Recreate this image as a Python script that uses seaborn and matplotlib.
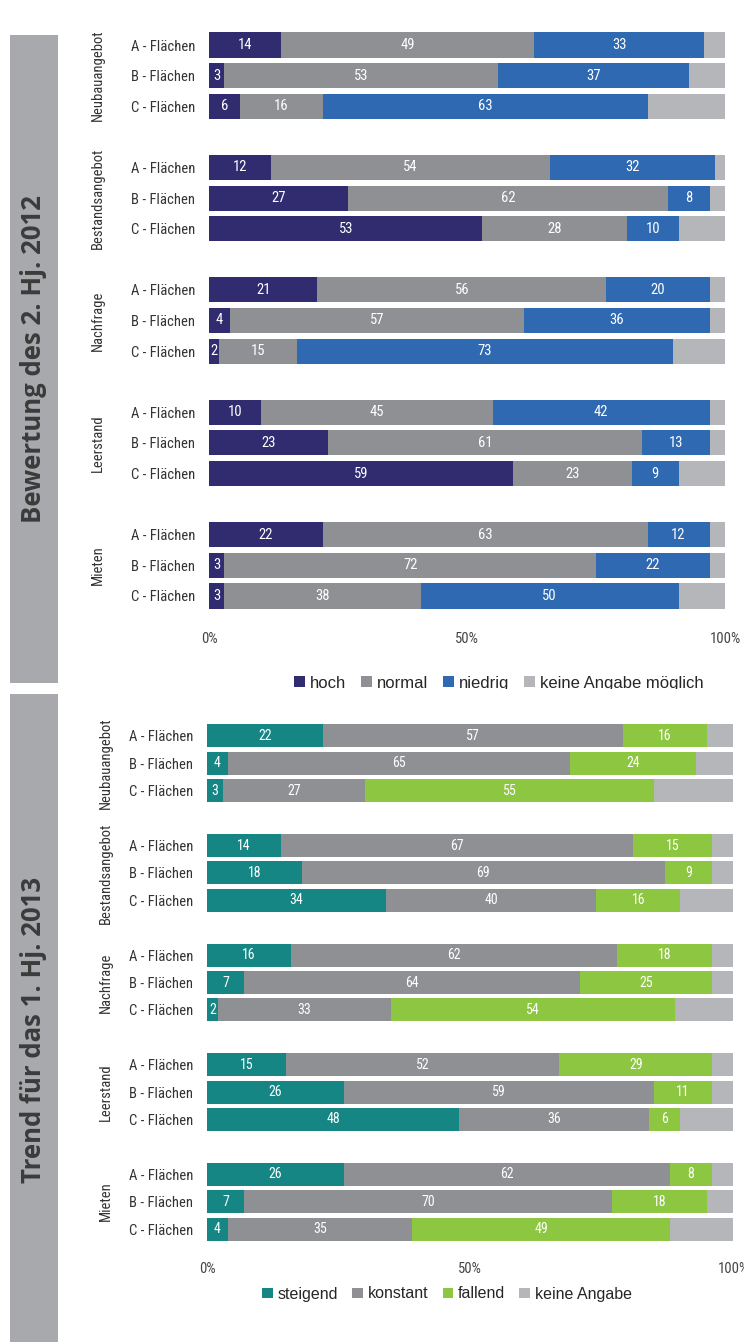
import numpy as np
import pandas as pd
import seaborn as sns
import matplotlib.pyplot as plt
from matplotlib import font_manager as fm
from matplotlib.patches import Rectangle
from matplotlib.transforms import blended_transform_factory

sns.set_theme(style="white")

# prefer a narrow sans for labels, fall back to a regular one
_names = {f.name for f in fm.fontManager.ttflist}
_cond = {f.name for f in fm.fontManager.ttflist if "condensed" in str(f.stretch) or "narrow" in f.name.lower() or "condensed" in f.name.lower()}
NARROW = None
for cand in ["Liberation Sans Narrow", "Roboto Condensed", "Open Sans Condensed",
             "Noto Sans Condensed", "DejaVu Sans Condensed"]:
    if cand in _names:
        NARROW = {"family": [cand, "DejaVu Sans"], "stretch": "normal"}
        break
if NARROW is None and _cond:
    NARROW = {"family": [sorted(_cond)[0], "DejaVu Sans"], "stretch": "condensed"}
if NARROW is None:
    NARROW = {"family": ["Roboto", "DejaVu Sans"], "stretch": "normal"}

plt.rcParams['font.family'] = NARROW["family"]
plt.rcParams['font.stretch'] = NARROW["stretch"]

# ---------------- data ----------------
groups = ["Neubauangebot", "Bestandsangebot", "Nachfrage", "Leerstand", "Mieten"]
rows = ["A - Flächen", "B - Flächen", "C - Flächen"]

# Bewertung des 2. Hj. 2012
eval_series = ["hoch", "normal", "niedrig", "keine Angabe möglich"]
eval_hoch = [14, 3, 6, 12, 27, 53, 21, 4, 2, 10, 23, 59, 22, 3, 3]
eval_normal = [49, 53, 16, 54, 62, 28, 56, 57, 15, 45, 61, 23, 63, 72, 38]
eval_niedrig = [33, 37, 63, 32, 8, 10, 20, 36, 73, 42, 13, 9, 12, 22, 50]
eval_keine = [4, 7, 15, 2, 3, 9, 3, 3, 10, 3, 3, 9, 3, 3, 9]

# Trend für das 1. Hj. 2013
trend_series = ["steigend", "konstant", "fallend", "keine Angabe"]
trend_steigend = [22, 4, 3, 14, 18, 34, 16, 7, 2, 15, 26, 48, 26, 7, 4]
trend_konstant = [57, 65, 27, 67, 69, 40, 62, 64, 33, 52, 59, 36, 62, 70, 35]
trend_fallend = [16, 24, 55, 15, 9, 16, 18, 25, 54, 29, 11, 6, 8, 18, 49]
trend_keine = [5, 7, 15, 4, 4, 10, 4, 4, 11, 4, 4, 10, 4, 5, 12]

x_ticks = [0, 50, 100]
x_ticklabels = ["0%", "50%", "100%"]

eval_colors = ["#312b6f", "#8f9094", "#2e69b2", "#b5b6b9"]
trend_colors = ["#168685", "#8f9094", "#8dc641", "#b5b6b9"]

W, H = 744, 1342
fig = plt.figure(figsize=(W / 100, H / 100), dpi=100)

# slot layout: three bars per group and one empty slot between groups
order = []
tick_pos, tick_lab, group_mid = [], [], []
for gi, g in enumerate(groups):
    for ri, r in enumerate(rows):
        tick_pos.append(len(order))
        tick_lab.append(r)
        order.append(f"{g}|{r}")
    group_mid.append(len(order) - 2)
    if gi < len(groups) - 1:
        order.append(f"gap{gi}")


def px_axes(x0, x1, y0, y1):
    return fig.add_axes([x0 / W, 1 - y1 / H, (x1 - x0) / W, (y1 - y0) / H])


def stacked_panel(ax, series_names, values, colors, width, val_fs, grp_x, tick_pad):
    keys = [f"{g}|{r}" for g in groups for r in rows]
    vals = np.array(values, dtype=float)
    cum = np.cumsum(vals, axis=0)
    # draw cumulative totals from the full bar down to the first segment
    for k in range(len(series_names) - 1, -1, -1):
        df = pd.DataFrame({"row": keys, "value": cum[k]})
        sns.barplot(data=df, x="value", y="row", order=order, orient="h",
                    color=colors[k], saturation=1, width=width, errorbar=None,
                    linewidth=0, ax=ax)
    # value labels for all but the last (no-answer) segment
    for k in range(len(series_names) - 1):
        starts = cum[k] - vals[k]
        for i, key in enumerate(keys):
            pos = order.index(key)
            ax.text(starts[i] + vals[k][i] / 2, pos, f"{int(vals[k][i])}",
                    ha="center", va="center", color="white", fontsize=val_fs)
    ax.set_xlim(0, 100)
    ax.set_ylim(len(order) - 0.5, -0.5)
    ax.set_yticks(tick_pos)
    ax.set_yticklabels(tick_lab, fontsize=10.5, color="#333333")
    ax.set_xticks(x_ticks)
    ax.set_xticklabels(x_ticklabels, fontsize=10.5, color="#444444")
    ax.tick_params(axis="y", length=0, pad=10)
    ax.tick_params(axis="x", length=0, pad=tick_pad)
    ax.set_xlabel("")
    ax.set_ylabel("")
    for s in ax.spines.values():
        s.set_visible(False)
    tr = blended_transform_factory(ax.transAxes, ax.transData)
    for g, m in zip(groups, group_mid):
        ax.text(grp_x, m, g, rotation=90, ha="center", va="center",
                fontsize=10.5, color="#333333", transform=tr)


# side strips with vertical titles
strip_color = "#a7a9ac"
fig.add_artist(Rectangle((10 / W, 1 - 683 / H), 48 / W, (683 - 35) / H,
                         transform=fig.transFigure, color=strip_color, lw=0))
fig.add_artist(Rectangle((10 / W, 0), 48 / W, (1342 - 694) / H,
                         transform=fig.transFigure, color=strip_color, lw=0))
title_font = dict(rotation=90, ha="center", va="center", fontsize=18.5,
                  fontweight="bold", family=["Open Sans", "DejaVu Sans"],
                  fontstretch="normal", color="#3b3b3b")
fig.text(34 / W, 1 - 359 / H, "Bewertung des 2. Hj. 2012", **title_font)
fig.text(34 / W, 1 - 1030 / H, "Trend für das 1. Hj. 2013", **title_font)

# top panel
ax1 = px_axes(209, 725, 45 - 15.3, 596 + 15.3)
stacked_panel(ax1, eval_series,
              [eval_hoch, eval_normal, eval_niedrig, eval_keine],
              eval_colors, 0.82, 10.5, (98 - 209) / 516, 15)

# bottom panel
ax2 = px_axes(207, 733, 736 - 13.7, 1229 + 13.7)
stacked_panel(ax2, trend_series,
              [trend_steigend, trend_konstant, trend_fallend, trend_keine],
              trend_colors, 0.84, 10, (106 - 207) / 526, 14)

# legends
def square_legend(names, colors, center, fs):
    handles = [Rectangle((0, 0), 1, 1, color=c, lw=0) for c in colors]
    fig.legend(handles, names, loc="center", bbox_to_anchor=center, ncol=4,
               frameon=False, handlelength=0.65, handleheight=0.65,
               handletextpad=0.3, columnspacing=0.9,
               prop={"family": ["Liberation Sans", "DejaVu Sans"],
                     "stretch": "normal", "size": fs})

square_legend(eval_series, eval_colors, (499 / W, 1 - 683 / H), 12)
square_legend(trend_series, trend_colors, (447 / W, 1 - 1294 / H), 11.5)

# the top legend is cut by the white gap above the lower strip
fig.add_artist(Rectangle((150 / W, 1 - 694 / H), 594 / W, 5 / H,
                         transform=fig.transFigure, color="white", lw=0, zorder=10))

fig.savefig("out.png", dpi=100)
